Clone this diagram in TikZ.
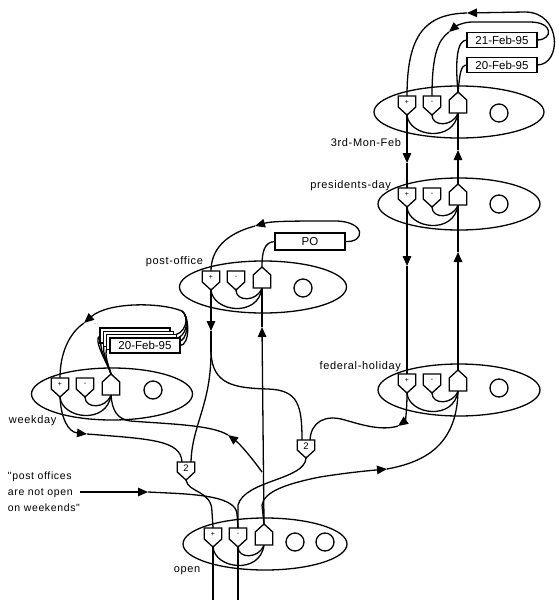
\documentclass[tikz,border=0pt]{standalone}
\usepackage{fontspec}
\setmainfont{Liberation Sans}
\newfontfamily\labfont[LetterSpace=6]{Liberation Sans}
\usetikzlibrary{shapes.geometric,arrows.meta,calc}
\newcommand\pgshape[3]{% name, side length, text
 \draw[fill=white] (#1.north west) -- (#1.north east) -- ([yshift=-#2pt]#1.north east) -- (#1.south) -- ([yshift=-#2pt]#1.north west) -- cycle;
 \node[gtext] at ([yshift=-6pt]#1.north) {#3};
}
\newcommand\agshape[1]{%
 \draw[fill=white] (#1.south west) -- (#1.south east) -- ([yshift=13pt]#1.south east) -- (#1.north) -- ([yshift=13pt]#1.south west) -- cycle;
}
\newcommand\mkunit[4]{%
 \node[unit, minimum width=#4pt] (#1) at (#2,#3) {};
 \node[gbox, minimum height=19pt, anchor=north] (#1-p) at ({#2-52},{#3-16}) {};
 \node[gbox, minimum height=19pt, anchor=north] (#1-m) at ({#2-27},{#3-16}) {};
 \node[gbox, minimum height=21pt, anchor=south] (#1-a) at ({#2-1},{#3+1}) {};
 \draw (#1-p.south) .. controls +(2,22) and +(-4,30) .. (#1-a.south);
 \draw (#1-m.south) .. controls +(0,12) and +(-5,14) .. (#1-a.south);
 \pgshape{#1-p}{11}{+}
 \pgshape{#1-m}{11}{-}
 \agshape{#1-a}
}
\begin{document}
\begin{tikzpicture}[x=1pt,y=-1pt,line width=1.3pt,
 every node/.style={inner sep=0pt, outer sep=0pt},
 unit/.style={draw, ellipse, minimum height=52pt},
 gbox/.style={rectangle, minimum width=17.5pt},
 gtext/.style={font=\fontsize{7}{7}\selectfont},
 ring/.style={draw, circle, minimum size=18pt},
 datebox/.style={draw, fill=white, rectangle, minimum width=70pt, minimum height=15pt, font=\fontsize{11.5}{12}\selectfont},
 lab/.style={font=\labfont\fontsize{11}{12}\selectfont},
 arr/.style={-{Triangle[length=10pt,width=8.5pt]}},
]
\useasboundingbox[fill=white] (0,0) rectangle (558,600);

% ---------- 3rd-Mon-Feb
\mkunit{tm}{459}{112}{170}
\node[ring] (tm-c) at (499,113) {};
\node[datebox] (b21) at (502,40) {21-Feb-95};
\node[datebox] (b20) at (502,65) {20-Feb-95};
\node[lab, anchor=east] (l-tm) at (401,143) {3rd-Mon-Feb};

% ---------- presidents-day
\mkunit{pd}{459}{204}{162}
\node[ring] (pd-c) at (499,204) {};
\node[lab, anchor=east] (l-pd) at (391,186) {presidents-day};

% ---------- federal-holiday
\mkunit{fh}{459}{390}{162}
\node[ring] (fh-c) at (499,388) {};
\node[lab, anchor=east] (l-fh) at (401,367) {federal-holiday};

% ---------- post-office
\mkunit{po}{263}{287}{167}
\node[ring] (po-c) at (303,288) {};
\node[datebox, minimum height=17pt] (pob) at (310,241.5) {PO};
\node[lab, anchor=east] (l-po) at (203,262) {post-office};

% ---------- weekday
\mkunit{wd}{112}{394}{161}
\node[ring] (wd-c) at (153,390) {};
\node[lab, anchor=west] (l-wd) at (9,421) {weekday};
\node[font=\fontsize{4}{4}\selectfont] (dots) at (96,324) {...};

% weekday box stack: loops first
\coordinate (wj) at (182,311);
\foreach \k in {0,1,2,3}{
  \coordinate (we\k) at ({180-3.3*\k},{345.5-3.3*\k});
  \coordinate (ww\k) at ({110-3.3*\k},{345.5-3.3*\k});
  \draw (we\k) .. controls +({10+2*\k},0) and +(8,6) .. (wj);
  \draw (wd-a.north) .. controls +(-3,-10) and +(-8,4) .. (ww\k);
}
\node[datebox] (wb3) at (135.1,335.6) {};
\node[datebox] (wb2) at (138.4,338.9) {};
\node[datebox] (wb1) at (141.7,342.2) {};
\node[datebox] (wb0) at (145,345.5) {20-Feb-95};

% ---------- open
\mkunit{op}{265}{544}{164}
\node[ring] (op-c1) at (295,542) {};
\node[ring] (op-c2) at (325,542) {};
\node[lab] (l-op) at (187,571) {open};
\coordinate (bot1) at (213,600);
\coordinate (bot2) at (238,600);

% ---------- threshold gates
\node[gbox, minimum height=18pt, anchor=north] (g1) at (186,462) {};
\node[gbox, minimum height=18pt, anchor=north] (g2) at (306,440) {};

% ---------- statement
\node[lab, align=left, anchor=west, font=\labfont\fontsize{10.5}{16}\selectfont] (stmt) at (8,492)
  {"post offices\\are not open\\on weekends"};

% ================= connectors
% 3rd-Mon-Feb loops
\coordinate (a1) at (467,13);
\draw[arr] (b20.east) .. controls (562,65) and (562,12) .. (525,12) -- (a1);
\draw (a1) .. controls (425,14) and (407,35) .. (tm-p.north);
\coordinate (a2) at (449,32);
\draw[arr] (b21.east) .. controls (553,40) and (554,22) .. (530,22) -- (472,22) .. controls (464,22) and (456,26) .. (a2);
\draw (a2) .. controls (438,40) and (432,55) .. (tm-m.north);
\draw (tm-a.north) .. controls (455,60) and (457,40) .. (b21.west);
\draw (tm-a.north) .. controls (460,75) and (460,65) .. (b20.west);

% verticals
\coordinate (ar1) at (407,163);
\draw[arr] (tm-p.south) -- (ar1); \draw (ar1) -- (pd-p.north);
\coordinate (ar2) at (458,150);
\draw[arr] (pd-a.north) -- (ar2); \draw (ar2) -- (tm-a.south);
\coordinate (ar3) at (407,266);
\draw[arr] (pd-p.south) -- (ar3); \draw (ar3) -- (fh-p.north);
\coordinate (ar4) at (458,252);
\draw[arr] (fh-a.north) -- (ar4); \draw (ar4) -- (pd-a.south);

% post-office loop
\coordinate (a7) at (255,226);
\draw[arr] (pob.east) .. controls (366,243) and (366,221) .. (335,221) .. controls (295,221) and (272,221) .. (a7);
\draw (a7) .. controls (225,234) and (211,250) .. (po-p.north);
\draw (po-a.north) .. controls (262,252) and (264,242) .. (pob.west);

% weekday loop
\coordinate (a8w) at (84,323);
\draw[arr] (wj) .. controls (160,302) and (108,302) .. (a8w);
\draw (a8w) .. controls (68,334) and (60,355) .. (wd-p.north);

% post-office + down
\coordinate (ar5) at (211,331);
\draw[arr] (po-p.south) -- (ar5);
\coordinate (br) at (211,352);
\draw (ar5) -- (br);
\draw (br) .. controls (211,405) and (192,425) .. ([xshift=5pt]g1.north);
\draw (br) .. controls (212,385) and (235,388) .. (268,389) .. controls (298,390) and (302,405) .. ([xshift=-4pt]g2.north);

% open AND -> post-office AND
\coordinate (ar6) at (262,327);
\draw[arr] (op-a.north) -- (ar6); \draw (ar6) -- (po-a.south);

% weekday + -> g1
\coordinate (a8) at (87,434);
\draw[arr] (wd-p.south) .. controls (61,418) and (68,432) .. (a8);
\draw (a8) .. controls (150,439) and (181,440) .. ([xshift=-4pt]g1.north);

% open AND -> weekday AND
\coordinate (j1) at (262,472);
\coordinate (a9) at (228,435);
\draw[arr] (j1) .. controls (252,458) and (240,444) .. (a9);
\draw (a9) .. controls (212,425) and (170,424) .. (130,421) .. controls (117,419) and (112,410) .. (wd-a.south);

% federal-holiday + -> g2
\coordinate (a10) at (398,426);
\draw[arr] (fh-p.south) .. controls (407,412) and (405,421) .. (a10);
\draw (a10) .. controls (382,431) and (362,425) .. (345,420) .. controls (325,414) and (311,422) .. ([xshift=4pt]g2.north);

% open AND -> federal-holiday AND
\coordinate (a11) at (387,469);
\draw[arr] (op-a.north) -- (262,505) .. controls (264,492) and (285,484) .. (320,477) .. controls (345,473) and (365,471) .. (a11);
\draw (a11) .. controls (425,462) and (457,445) .. (fh-a.south);

% into open
\draw (g1.south) .. controls (188,493) and (212,490) .. (212,512) -- (op-p.north);
\coordinate (a12) at (148,492);
\draw[arr] (stmt.east) -- (a12);
\draw (a12) .. controls (185,494) and (236,494) .. (237,514) -- (op-m.north);
\draw (g2.south) .. controls (305,480) and (245,480) .. (238,505) -- (op-m.north);
\draw (op-p.south) -- (bot1);
\draw (op-m.south) -- (bot2);

% threshold gate outlines
\pgshape{g1}{10}{\fontsize{9.5}{9.5}\selectfont 2}
\pgshape{g2}{10}{\fontsize{9.5}{9.5}\selectfont 2}
\end{tikzpicture}
\end{document}
